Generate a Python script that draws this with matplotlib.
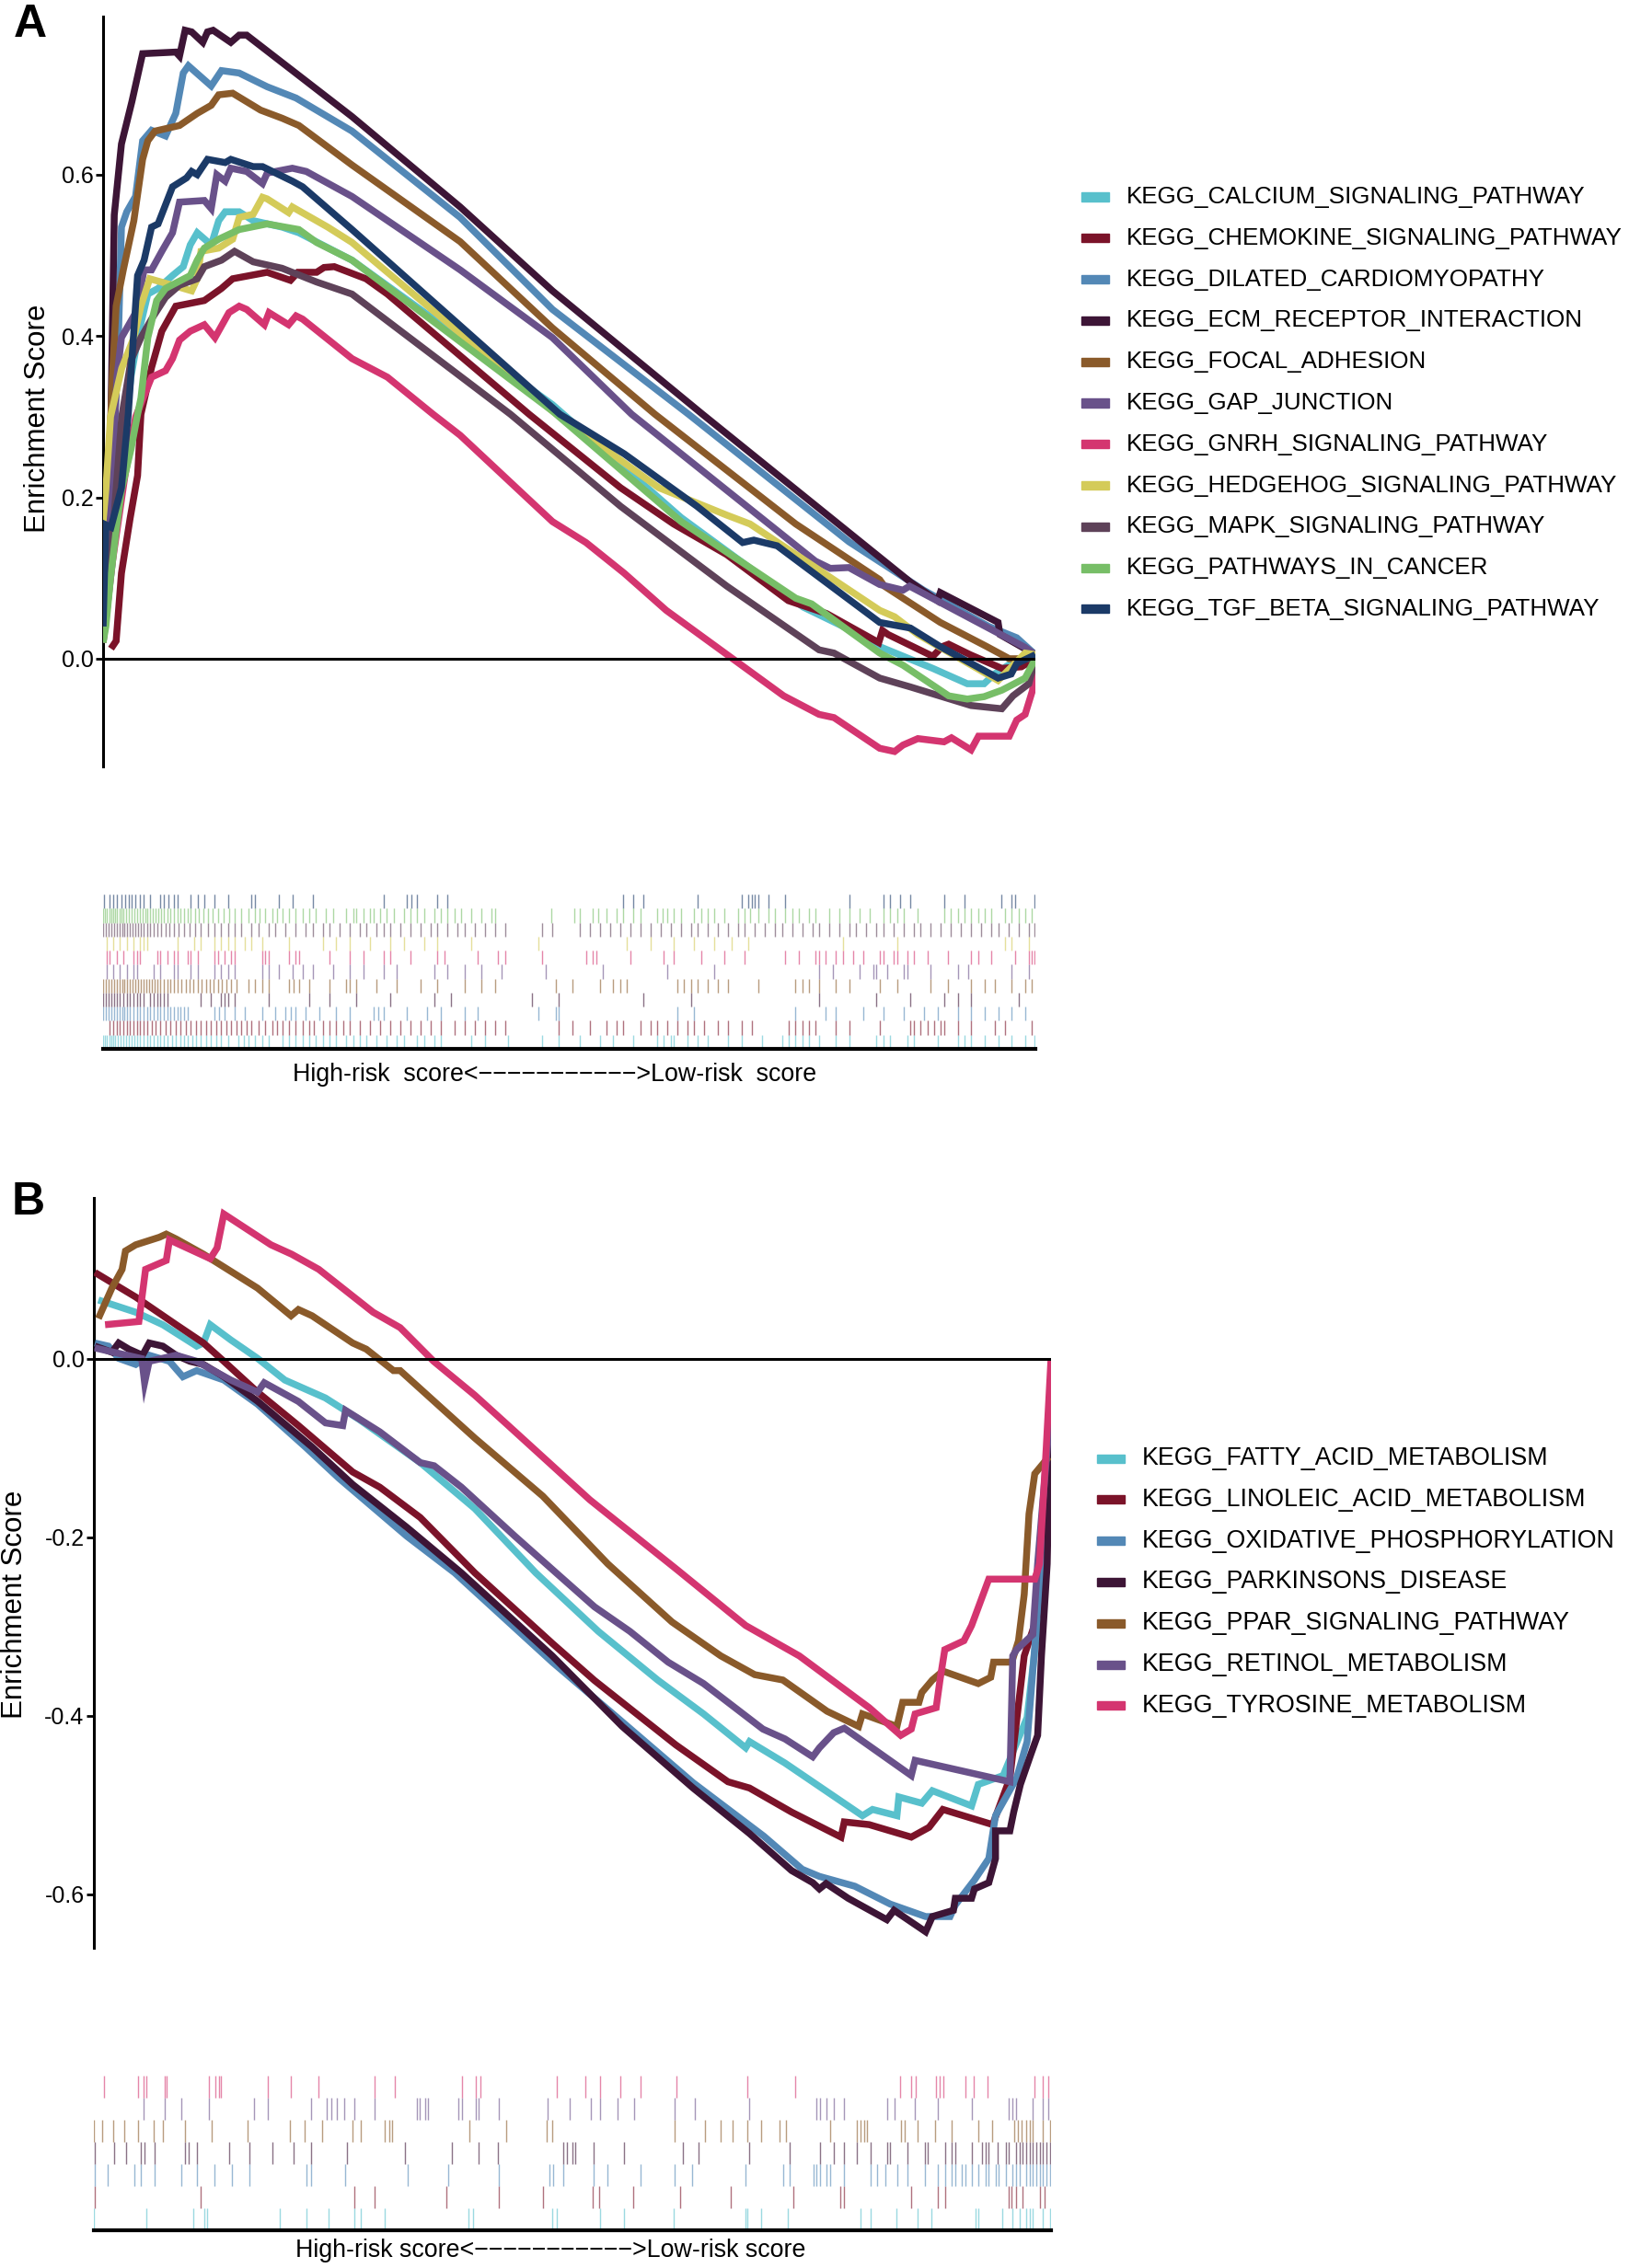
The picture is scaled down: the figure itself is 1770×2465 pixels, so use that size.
import matplotlib.pyplot as plt
from matplotlib.patches import Rectangle

plt.rcParams['font.family'] = ['Liberation Sans', 'DejaVu Sans']

# ---------------- panel A: sets enriched in the high-risk group ----------------
a_names = ['KEGG_CALCIUM_SIGNALING_PATHWAY', 'KEGG_CHEMOKINE_SIGNALING_PATHWAY',
           'KEGG_DILATED_CARDIOMYOPATHY', 'KEGG_ECM_RECEPTOR_INTERACTION',
           'KEGG_FOCAL_ADHESION', 'KEGG_GAP_JUNCTION', 'KEGG_GNRH_SIGNALING_PATHWAY',
           'KEGG_HEDGEHOG_SIGNALING_PATHWAY', 'KEGG_MAPK_SIGNALING_PATHWAY',
           'KEGG_PATHWAYS_IN_CANCER', 'KEGG_TGF_BETA_SIGNALING_PATHWAY']
a_colors = ['#58C0CC', '#7B1329', '#5388B6', '#3D1536', '#8A5A2A', '#69518A',
            '#D43570', '#D4CB59', '#5E4259', '#77BE67', '#1B3A67']

# running enrichment score, (fraction of ranked list, ES)
calcium = [(0.0, 0.02), (0.01, 0.12), (0.02, 0.25), (0.03, 0.35), (0.0386, 0.406), (0.048, 0.452),
           (0.059, 0.459), (0.0745, 0.475), (0.086, 0.486), (0.0935, 0.513), (0.101, 0.528),
           (0.116, 0.513), (0.124, 0.543), (0.131, 0.554), (0.146, 0.554), (0.161, 0.543),
           (0.192, 0.535), (0.210, 0.528), (0.267, 0.494), (0.482, 0.315), (0.62, 0.175),
           (0.751, 0.064), (0.792, 0.041), (0.833, 0.015), (0.890, -0.012), (0.927, -0.031),
           (0.945, -0.031), (0.956, -0.019), (0.975, -0.005), (1.0, 0.0)]
chemokine = [(0.0085, 0.0125), (0.014, 0.022), (0.0197, 0.106), (0.029, 0.174), (0.037, 0.227),
             (0.0406, 0.303), (0.052, 0.361), (0.063, 0.406), (0.078, 0.437), (0.1086, 0.444),
             (0.127, 0.459), (0.139, 0.471), (0.176, 0.479), (0.201, 0.469), (0.209, 0.479),
             (0.229, 0.479), (0.237, 0.485), (0.248, 0.486), (0.282, 0.471), (0.305, 0.452),
             (0.457, 0.303), (0.555, 0.212), (0.612, 0.167), (0.669, 0.129), (0.735, 0.072),
             (0.776, 0.056), (0.832, 0.020), (0.836, 0.035), (0.842, 0.030), (0.890, 0.003),
             (0.900, 0.015), (0.907, 0.018), (0.93, 0.005), (0.964, -0.012), (0.985, -0.01), (1.0, 0.0)]
dilated = [(0.0, 0.03), (0.008, 0.15), (0.012, 0.28), (0.016, 0.380), (0.0197, 0.535), (0.0254, 0.554),
           (0.0348, 0.573), (0.0424, 0.642), (0.052, 0.655), (0.067, 0.648), (0.078, 0.676),
           (0.086, 0.726), (0.0915, 0.735), (0.116, 0.710), (0.127, 0.729), (0.146, 0.726),
           (0.176, 0.709), (0.207, 0.695), (0.267, 0.654), (0.383, 0.547), (0.482, 0.433),
           (0.628, 0.303), (0.80, 0.145), (0.88, 0.085), (0.95, 0.04), (0.98, 0.026), (1.0, 0.005)]
ecm = [(0.0, 0.03), (0.005, 0.18), (0.0085, 0.303), (0.012, 0.55), (0.0197, 0.638), (0.031, 0.691),
       (0.0424, 0.750), (0.078, 0.752), (0.082, 0.747), (0.088, 0.779), (0.095, 0.777), (0.107, 0.764),
       (0.112, 0.777), (0.118, 0.779), (0.137, 0.764), (0.146, 0.773), (0.154, 0.773), (0.267, 0.672),
       (0.383, 0.560), (0.482, 0.456), (0.643, 0.303), (0.866, 0.095), (0.895, 0.072), (0.898, 0.082),
       (0.960, 0.045), (0.962, 0.03), (1.0, 0.005)]
focal = [(0.0, 0.05), (0.005, 0.2), (0.01, 0.35), (0.014, 0.437), (0.0217, 0.482), (0.033, 0.543),
         (0.0424, 0.619), (0.048, 0.642), (0.0557, 0.654), (0.082, 0.661), (0.101, 0.676),
         (0.116, 0.686), (0.124, 0.699), (0.139, 0.701), (0.169, 0.680), (0.192, 0.670),
         (0.210, 0.661), (0.267, 0.612), (0.383, 0.517), (0.482, 0.410), (0.592, 0.303),
         (0.743, 0.167), (0.833, 0.098), (0.838, 0.09), (0.898, 0.045), (0.948, 0.015),
         (0.972, 0.0), (1.0, 0.0)]
gap = [(0.0, 0.03), (0.008, 0.2), (0.015, 0.35), (0.0197, 0.398), (0.035, 0.429), (0.044, 0.482),
       (0.052, 0.482), (0.063, 0.505), (0.0745, 0.528), (0.082, 0.566), (0.1086, 0.568), (0.116, 0.558),
       (0.122, 0.600), (0.131, 0.592), (0.137, 0.608), (0.154, 0.604), (0.171, 0.589), (0.176, 0.602),
       (0.203, 0.608), (0.218, 0.604), (0.267, 0.573), (0.383, 0.482), (0.482, 0.398), (0.567, 0.303),
       (0.764, 0.121), (0.78, 0.112), (0.80, 0.113), (0.833, 0.092), (0.858, 0.085), (0.865, 0.09),
       (0.989, 0.014), (1.0, 0.005)]
gnrh = [(0.0, 0.02), (0.01, 0.12), (0.0235, 0.227), (0.035, 0.30), (0.052, 0.349), (0.067, 0.357),
        (0.0745, 0.372), (0.082, 0.395), (0.0935, 0.406), (0.1086, 0.414), (0.120, 0.398),
        (0.135, 0.429), (0.146, 0.437), (0.154, 0.433), (0.173, 0.414), (0.178, 0.429),
        (0.199, 0.414), (0.207, 0.425), (0.214, 0.421), (0.267, 0.372), (0.305, 0.349),
        (0.354, 0.303), (0.383, 0.277), (0.482, 0.170), (0.518, 0.144), (0.559, 0.106),
        (0.604, 0.060), (0.730, -0.046), (0.768, -0.069), (0.784, -0.073), (0.833, -0.111),
        (0.849, -0.115), (0.858, -0.107), (0.874, -0.099), (0.902, -0.103), (0.910, -0.098),
        (0.931, -0.113), (0.939, -0.096), (0.972, -0.096), (0.980, -0.076), (0.989, -0.069),
        (0.997, -0.039), (1.0, 0.0)]
hedgehog = [(0.0, 0.17), (0.003, 0.21), (0.008, 0.30), (0.02, 0.36), (0.033, 0.398), (0.0406, 0.437),
            (0.050, 0.471), (0.0745, 0.463), (0.095, 0.456), (0.101, 0.471), (0.105, 0.505),
            (0.124, 0.509), (0.139, 0.520), (0.146, 0.547), (0.161, 0.551), (0.171, 0.572),
            (0.176, 0.570), (0.199, 0.553), (0.203, 0.560), (0.241, 0.535), (0.267, 0.516),
            (0.482, 0.307), (0.596, 0.212), (0.637, 0.193), (0.669, 0.178), (0.694, 0.167),
            (0.833, 0.06), (0.849, 0.052), (0.874, 0.03), (0.960, -0.027), (0.989, 0.007), (1.0, 0.005)]
mapk = [(0.0, 0.03), (0.01, 0.15), (0.02, 0.30), (0.03, 0.37), (0.0406, 0.398), (0.052, 0.421),
        (0.067, 0.448), (0.082, 0.463), (0.101, 0.471), (0.1086, 0.486), (0.127, 0.494),
        (0.141, 0.505), (0.161, 0.492), (0.192, 0.484), (0.229, 0.467), (0.267, 0.452),
        (0.437, 0.303), (0.555, 0.189), (0.669, 0.090), (0.768, 0.011), (0.784, 0.007),
        (0.833, -0.024), (0.866, -0.035), (0.931, -0.058), (0.964, -0.062), (0.976, -0.046),
        (0.993, -0.031), (1.0, 0.0)]
cancer = [(0.0, 0.02), (0.003, 0.04), (0.008, 0.10), (0.014, 0.159), (0.0197, 0.209), (0.03, 0.26),
          (0.037, 0.303), (0.0406, 0.323), (0.048, 0.398), (0.0575, 0.444), (0.067, 0.459),
          (0.0935, 0.475), (0.101, 0.494), (0.1086, 0.509), (0.124, 0.520), (0.146, 0.532),
          (0.176, 0.539), (0.210, 0.532), (0.229, 0.516), (0.267, 0.494), (0.482, 0.307),
          (0.62, 0.170), (0.743, 0.075), (0.76, 0.068), (0.833, 0.007), (0.858, -0.008),
          (0.907, -0.046), (0.927, -0.050), (0.945, -0.047), (0.964, -0.039), (0.989, -0.024), (1.0, 0.0)]
tgf = [(0.0, 0.04), (0.003, 0.166), (0.0085, 0.163), (0.0197, 0.212), (0.027, 0.303), (0.037, 0.475),
       (0.044, 0.494), (0.052, 0.535), (0.059, 0.539), (0.0745, 0.585), (0.0895, 0.596), (0.095, 0.604),
       (0.101, 0.600), (0.112, 0.619), (0.131, 0.615), (0.137, 0.619), (0.161, 0.610), (0.171, 0.610),
       (0.203, 0.592), (0.214, 0.585), (0.267, 0.532), (0.49, 0.303), (0.559, 0.254), (0.637, 0.189),
       (0.686, 0.144), (0.698, 0.147), (0.723, 0.140), (0.833, 0.045), (0.866, 0.038), (0.898, 0.015),
       (0.960, -0.024), (0.974, -0.019), (0.980, -0.006), (1.0, 0.005)]
a_curves = [calcium, chemokine, dilated, ecm, focal, gap, gnrh, hedgehog, mapk, cancer, tgf]

# hit positions (rank in a list of 1380 genes)
N_A = 1380
calcium_hits = [0, 3, 6, 9, 12, 15, 18, 22, 26, 30, 34, 38, 42, 46, 50, 55, 60, 65, 70, 75, 80, 85, 90, 96,
                102, 108, 114, 120, 126, 132, 138, 145, 152, 160, 168, 175, 185, 200, 208, 215, 225, 235,
                245, 265, 275, 285, 295, 305, 315, 325, 335, 345, 360, 370, 380, 390, 405, 420, 435, 445,
                465, 475, 490, 500, 545, 565, 600, 650, 675, 705, 735, 755, 785, 820, 830, 840, 845, 865,
                880, 895, 925, 945, 975, 1005, 1015, 1025, 1035, 1045, 1060, 1085, 1105, 1145, 1155, 1165,
                1190, 1200, 1235, 1265, 1275, 1285, 1305, 1325, 1345, 1365, 1379]
chemokine_hits = [10, 15, 20, 25, 30, 35, 40, 45, 50, 55, 60, 65, 72, 78, 85, 92, 100, 108, 115, 122, 130,
                  138, 145, 152, 160, 168, 175, 182, 190, 198, 205, 212, 220, 230, 240, 250, 258, 265, 275,
                  285, 295, 305, 312, 325, 335, 345, 355, 365, 380, 395, 410, 425, 440, 455, 470, 485, 500,
                  520, 535, 550, 565, 580, 595, 675, 695, 720, 745, 760, 770, 795, 810, 820, 835, 850, 865,
                  875, 890, 910, 925, 945, 960, 1015, 1025, 1035, 1045, 1055, 1085, 1105, 1150, 1195, 1200,
                  1210, 1220, 1230, 1240, 1245, 1265, 1285, 1320, 1335, 1375]
dilated_hits = [0, 4, 8, 12, 16, 20, 24, 28, 32, 36, 40, 45, 50, 55, 60, 65, 70, 75, 80, 85, 90, 95, 100, 105,
                110, 115, 120, 125, 165, 172, 180, 195, 210, 235, 255, 270, 278, 285, 300, 320, 345, 365,
                400, 408, 415, 450, 480, 500, 535, 555, 645, 670, 675, 850, 875, 1025, 1070, 1085, 1125,
                1155, 1185, 1215, 1235, 1265, 1285, 1305, 1325, 1345, 1365]
ecm_hits = [0, 4, 8, 12, 16, 20, 25, 30, 35, 40, 45, 50, 55, 60, 70, 75, 80, 85, 90, 95, 145, 160, 175, 180,
            185, 195, 245, 305, 335, 375, 425, 490, 515, 635, 675, 800, 870, 1060, 1145, 1195, 1245, 1265,
            1285, 1355]
focal_hits = [0, 4, 8, 12, 16, 20, 24, 28, 32, 36, 40, 44, 48, 52, 56, 60, 64, 68, 72, 76, 80, 85, 90, 95,
              100, 105, 110, 116, 122, 128, 134, 140, 146, 152, 158, 164, 170, 176, 183, 190, 197, 215, 225,
              235, 245, 275, 282, 290, 305, 335, 360, 365, 375, 405, 435, 470, 495, 535, 560, 580, 670, 695,
              735, 755, 765, 775, 850, 860, 870, 880, 895, 910, 925, 970, 1025, 1035, 1045, 1060, 1085, 1105,
              1150, 1175, 1225, 1250, 1285, 1305, 1320, 1345, 1365, 1375]
gap_hits = [5, 15, 25, 35, 45, 50, 75, 85, 105, 110, 130, 140, 165, 175, 185, 195, 235, 245, 260, 280, 295,
            310, 340, 365, 385, 415, 435, 490, 510, 535, 560, 590, 655, 740, 835, 905, 1060, 1080, 1120,
            1140, 1145, 1160, 1185, 1190, 1225, 1265, 1280, 1345, 1370]
gnrh_hits = [5, 10, 20, 30, 45, 50, 55, 80, 85, 95, 105, 110, 125, 130, 140, 165, 170, 180, 190, 195, 235,
             240, 245, 275, 285, 290, 335, 365, 385, 415, 425, 455, 495, 505, 555, 585, 595, 650, 715, 725,
             730, 780, 830, 845, 885, 920, 950, 1010, 1030, 1055, 1060, 1070, 1085, 1095, 1110, 1125, 1150,
             1155, 1170, 1175, 1190, 1200, 1220, 1250, 1285, 1295, 1315, 1350, 1370, 1375, 1379]
hedgehog_hits = [5, 15, 25, 35, 45, 55, 60, 65, 110, 135, 145, 165, 175, 185, 195, 210, 220, 235, 275, 325,
                 345, 365, 395, 425, 445, 475, 495, 545, 645, 775, 810, 845, 875, 905, 930, 955, 1095, 1175,
                 1335, 1345, 1370]
mapk_hits = [0, 4, 8, 12, 16, 20, 24, 28, 32, 36, 40, 44, 48, 52, 56, 60, 65, 70, 75, 80, 86, 92, 98, 105, 112,
             120, 128, 136, 145, 155, 165, 175, 185, 195, 205, 220, 230, 245, 255, 270, 285, 300, 310, 325,
             335, 350, 365, 380, 390, 405, 415, 425, 440, 455, 470, 485, 495, 510, 525, 535, 550, 565, 580,
             595, 650, 665, 705, 720, 735, 750, 765, 780, 795, 810, 825, 840, 855, 870, 880, 895, 910, 925,
             940, 950, 965, 980, 995, 1005, 1020, 1035, 1050, 1060, 1075, 1090, 1105, 1115, 1130, 1145,
             1155, 1170, 1185, 1200, 1210, 1225, 1240, 1255, 1270, 1285, 1300, 1315, 1325, 1340, 1355,
             1370, 1379]
cancer_hits = [0, 3, 6, 9, 12, 15, 18, 21, 24, 27, 30, 34, 38, 42, 46, 50, 54, 58, 62, 66, 70, 74, 78, 82, 86,
               90, 95, 100, 105, 110, 115, 120, 125, 130, 136, 142, 148, 155, 162, 170, 178, 186, 195, 205,
               215, 225, 232, 240, 250, 258, 265, 275, 285, 295, 305, 315, 330, 340, 360, 370, 375, 385, 395,
               400, 410, 420, 430, 445, 455, 465, 475, 490, 500, 510, 520, 530, 545, 560, 575, 580, 663, 697,
               705, 725, 733, 745, 760, 770, 785, 795, 820, 828, 835, 845, 855, 875, 885, 895, 905, 920, 940,
               950, 958, 970, 985, 995, 1010, 1020, 1030, 1045, 1055, 1075, 1090, 1105, 1120, 1135, 1155,
               1165, 1175, 1185, 1205, 1245, 1255, 1265, 1275, 1285, 1295, 1305, 1315, 1335, 1345, 1355,
               1365, 1375]
tgf_hits = [2, 10, 15, 20, 27, 33, 38, 42, 48, 55, 60, 70, 85, 90, 97, 105, 110, 130, 140, 150, 165, 185, 220,
            225, 260, 280, 310, 415, 450, 457, 465, 495, 510, 770, 785, 800, 880, 945, 955, 960, 965, 970,
            985, 1010, 1105, 1155, 1165, 1180, 1195, 1245, 1275, 1330, 1345, 1350, 1379]
a_hits = [calcium_hits, chemokine_hits, dilated_hits, ecm_hits, focal_hits, gap_hits, gnrh_hits,
          hedgehog_hits, mapk_hits, cancer_hits, tgf_hits]

# ---------------- panel B: sets enriched in the low-risk group ----------------
b_names = ['KEGG_FATTY_ACID_METABOLISM', 'KEGG_LINOLEIC_ACID_METABOLISM',
           'KEGG_OXIDATIVE_PHOSPHORYLATION', 'KEGG_PARKINSONS_DISEASE',
           'KEGG_PPAR_SIGNALING_PATHWAY', 'KEGG_RETINOL_METABOLISM', 'KEGG_TYROSINE_METABOLISM']
b_colors = ['#58C0CC', '#7B1329', '#5388B6', '#3D1536', '#8A5A2A', '#69518A', '#D43570']

fatty = [(0.0047, 0.0657), (0.0437, 0.052), (0.072, 0.038), (0.1074, 0.014), (0.1145, 0.0175),
         (0.1216, 0.038), (0.143, 0.021), (0.171, 0.0003), (0.1995, -0.024), (0.2418, -0.044),
         (0.277, -0.068), (0.341, -0.1165), (0.398, -0.168), (0.4617, -0.240), (0.527, -0.3055),
         (0.589, -0.360), (0.637, -0.398), (0.681, -0.436), (0.685, -0.429), (0.722, -0.453),
         (0.803, -0.512), (0.8135, -0.505), (0.839, -0.512), (0.841, -0.491), (0.865, -0.498),
         (0.876, -0.484), (0.917, -0.501), (0.924, -0.477), (0.950, -0.467), (0.975, -0.402),
         (0.986, -0.299), (0.992, -0.230), (1.0, -0.10)]
linoleic = [(0.001, 0.0966), (0.0437, 0.069), (0.086, 0.038), (0.1145, 0.0175), (0.1358, -0.003),
            (0.171, -0.0375), (0.2137, -0.075), (0.2704, -0.127), (0.2987, -0.144), (0.341, -0.178),
            (0.398, -0.240), (0.479, -0.319), (0.523, -0.3605), (0.608, -0.4327), (0.6625, -0.474),
            (0.685, -0.481), (0.729, -0.508), (0.7806, -0.536), (0.784, -0.519), (0.810, -0.522),
            (0.854, -0.536), (0.8726, -0.525), (0.887, -0.505), (0.939, -0.522), (0.957, -0.470),
            (0.972, -0.333), (0.988, -0.281), (0.994, -0.230), (1.0, -0.05)]
oxidative = [(0.001, 0.0175), (0.0152, 0.014), (0.0259, 0.0003), (0.0437, -0.0065), (0.0578, 0.0038),
             (0.079, -0.003), (0.093, -0.0203), (0.1074, -0.0134), (0.1358, -0.024), (0.171, -0.051),
             (0.221, -0.099), (0.256, -0.134), (0.327, -0.199), (0.377, -0.240), (0.479, -0.340),
             (0.55, -0.405), (0.626, -0.475), (0.70, -0.535), (0.74, -0.572), (0.758, -0.580),
             (0.795, -0.591), (0.832, -0.611), (0.869, -0.625), (0.8945, -0.625), (0.900, -0.612),
             (0.920, -0.584), (0.935, -0.560), (0.942, -0.512), (0.964, -0.470), (0.975, -0.429),
             (0.990, -0.230), (1.0, -0.08)]
parkinsons = [(0.001, 0.014), (0.0188, 0.0072), (0.0259, 0.0175), (0.0366, 0.0106), (0.0508, 0.0038),
              (0.0578, 0.0175), (0.072, 0.014), (0.086, 0.0038), (0.1004, -0.003), (0.1145, -0.0065),
              (0.1358, -0.0203), (0.171, -0.0477), (0.228, -0.099), (0.2704, -0.141), (0.327, -0.189),
              (0.384, -0.240), (0.479, -0.333), (0.552, -0.412), (0.626, -0.481), (0.685, -0.532),
              (0.729, -0.5735), (0.751, -0.587), (0.758, -0.594), (0.765, -0.588), (0.788, -0.6045),
              (0.8285, -0.6285), (0.836, -0.618), (0.869, -0.642), (0.876, -0.625), (0.898, -0.618),
              (0.900, -0.6045), (0.917, -0.6045), (0.920, -0.594), (0.935, -0.587), (0.942, -0.560),
              (0.942, -0.529), (0.957, -0.529), (0.961, -0.508), (0.968, -0.477), (0.979, -0.443),
              (0.986, -0.422), (0.990, -0.333), (0.996, -0.230), (1.0, -0.02)]
ppar = [(0.0047, 0.045), (0.0188, 0.079), (0.0295, 0.100), (0.033, 0.1206), (0.0437, 0.1275),
        (0.0685, 0.136), (0.0756, 0.1395), (0.086, 0.134), (0.1145, 0.117), (0.171, 0.079),
        (0.206, 0.048), (0.2137, 0.055), (0.228, 0.048), (0.2704, 0.0175), (0.2846, 0.0106),
        (0.313, -0.0134), (0.320, -0.0134), (0.398, -0.089), (0.469, -0.154), (0.537, -0.230),
        (0.604, -0.295), (0.655, -0.333), (0.6904, -0.354), (0.7198, -0.360), (0.766, -0.395),
        (0.799, -0.412), (0.803, -0.398), (0.839, -0.412), (0.845, -0.385), (0.862, -0.385),
        (0.865, -0.374), (0.876, -0.360), (0.887, -0.350), (0.924, -0.364), (0.937, -0.357),
        (0.940, -0.340), (0.959, -0.340), (0.966, -0.316), (0.972, -0.264), (0.977, -0.174),
        (0.983, -0.129), (0.993, -0.116), (0.998, -0.11)]
retinol = [(0.001, 0.012), (0.05, 0.0), (0.053, -0.027), (0.0578, -0.003), (0.086, 0.0038),
           (0.1074, -0.003), (0.143, -0.024), (0.171, -0.0375), (0.178, -0.027), (0.2137, -0.048),
           (0.242, -0.072), (0.260, -0.075), (0.263, -0.058), (0.2987, -0.082), (0.341, -0.1165),
           (0.3555, -0.12), (0.384, -0.144), (0.440, -0.199), (0.483, -0.240), (0.523, -0.278),
           (0.560, -0.3055), (0.600, -0.340), (0.637, -0.364), (0.699, -0.415), (0.722, -0.426),
           (0.751, -0.446), (0.758, -0.436), (0.773, -0.419), (0.784, -0.414), (0.854, -0.467),
           (0.858, -0.450), (0.920, -0.465), (0.957, -0.474), (0.960, -0.333), (0.964, -0.326),
           (0.981, -0.309), (0.986, -0.230), (1.0, -0.05)]
tyrosine = [(0.0117, 0.038), (0.047, 0.0416), (0.054, 0.100), (0.0756, 0.110), (0.079, 0.133),
            (0.1216, 0.112), (0.1287, 0.124), (0.1358, 0.162), (0.185, 0.1275), (0.2066, 0.117),
            (0.235, 0.100), (0.2917, 0.052), (0.320, 0.0347), (0.355, -0.003), (0.398, -0.041),
            (0.433, -0.075), (0.518, -0.158), (0.61, -0.237), (0.681, -0.299), (0.737, -0.333),
            (0.810, -0.391), (0.843, -0.422), (0.854, -0.415), (0.858, -0.398), (0.880, -0.391),
            (0.884, -0.360), (0.889, -0.326), (0.909, -0.316), (0.917, -0.299), (0.935, -0.247),
            (0.983, -0.247), (0.988, -0.230), (0.995, -0.10), (1.0, 0.0)]
b_curves = [fatty, linoleic, oxidative, parkinsons, ppar, retinol, tyrosine]

N_B = 1417
fatty_hits = [0, 78, 147, 163, 168, 275, 315, 348, 385, 395, 430, 555, 562, 678, 685, 750, 785, 858, 965,
              968, 988, 1028, 1135, 1150, 1188, 1220, 1240, 1305, 1310, 1345, 1360, 1370, 1380, 1385, 1390,
              1405, 1415]
linoleic_hits = [2, 158, 385, 415, 522, 600, 665, 738, 748, 798, 868, 943, 1035, 1105, 1110, 1210, 1250,
                 1260, 1355, 1358, 1365, 1375, 1400, 1408]
oxidative_hits = [2, 20, 60, 70, 90, 130, 153, 178, 205, 230, 315, 322, 372, 465, 525, 600, 675, 680, 695,
                  740, 760, 810, 860, 885, 965, 1020, 1030, 1065, 1070, 1075, 1085, 1090, 1110, 1150, 1160,
                  1172, 1190, 1205, 1230, 1250, 1260, 1270, 1275, 1285, 1290, 1300, 1310, 1320, 1325, 1335,
                  1340, 1350, 1360, 1365, 1370, 1380, 1385, 1390, 1395, 1400, 1405, 1410, 1415]
parkinsons_hits = [2, 30, 48, 70, 75, 90, 135, 140, 153, 200, 230, 265, 295, 322, 375, 460, 530, 570, 598,
                   695, 700, 708, 712, 740, 785, 872, 895, 970, 1030, 1075, 1095, 1110, 1130, 1150, 1175,
                   1178, 1205, 1230, 1235, 1260, 1270, 1275, 1300, 1315, 1320, 1325, 1338, 1350, 1355, 1365,
                   1370, 1375, 1380, 1385, 1390, 1395, 1400, 1405, 1410, 1415]
ppar_hits = [0, 12, 28, 45, 65, 88, 102, 135, 175, 227, 290, 312, 338, 383, 395, 430, 438, 442, 556, 610,
             670, 678, 860, 905, 928, 945, 968, 988, 1015, 1025, 1090, 1130, 1135, 1140, 1145, 1195, 1200,
             1220, 1245, 1270, 1310, 1330, 1363, 1368, 1373, 1380, 1385, 1390, 1405, 1415]
retinol_hits = [73, 105, 130, 170, 237, 257, 322, 345, 352, 360, 370, 385, 415, 478, 482, 490, 494, 540,
                545, 565, 570, 600, 672, 705, 736, 750, 775, 800, 860, 890, 970, 1070, 1075, 1085, 1095,
                1110, 1175, 1185, 1215, 1250, 1300, 1355, 1360, 1365, 1390, 1405, 1413]
tyrosine_hits = [15, 65, 73, 78, 105, 108, 170, 180, 185, 188, 258, 292, 332, 416, 445, 545, 565, 572, 686,
                 728, 750, 780, 810, 862, 968, 1038, 1193, 1210, 1217, 1247, 1252, 1258, 1290, 1302, 1323,
                 1393, 1405, 1413]
b_hits = [fatty_hits, linoleic_hits, oxidative_hits, parkinsons_hits, ppar_hits, retinol_hits, tyrosine_hits]

DASHES = '\u2212' * 11
a_xlabel = 'High-risk  score<' + DASHES + '>Low-risk  score'
b_xlabel = 'High-risk score<' + DASHES + '>Low-risk score'

# ---------------- layout (pixel boxes on a 1770 x 2465 canvas) ----------------
W, H = 1770, 2465
fig = plt.figure(figsize=(W / 100, H / 100), dpi=100)


def box(x0, y0, x1, y1):
    return [x0 / W, 1 - y1 / H, (x1 - x0) / W, (y1 - y0) / H]


def es_panel(rect, curves, colors, ylim, yticks, label_xy):
    ax = fig.add_axes(rect)
    for pts, c in zip(curves, colors):
        ax.plot([p[0] for p in pts], [p[1] for p in pts], color=c, lw=5.4,
                solid_joinstyle='miter', solid_capstyle='butt', zorder=3)
    ax.axhline(0, color='black', lw=2.2, zorder=4)
    ax.set_xlim(0, 1)
    ax.set_ylim(*ylim)
    ax.set_yticks(yticks)
    ax.set_yticklabels(['%.1f' % t for t in yticks])
    ax.set_xticks([])
    for s in ['top', 'right', 'bottom']:
        ax.spines[s].set_visible(False)
    ax.spines['left'].set_linewidth(2.2)
    ax.tick_params(axis='y', length=6, width=2, labelsize=18, pad=1.5)
    ax.set_ylabel('Enrichment Score', fontsize=22.5)
    ax.yaxis.set_label_coords(*label_xy)
    return ax


def rug_panel(rect, hits, n, colors, xlabel, label_x, label_y):
    ax = fig.add_axes(rect)
    for i, (h, c) in enumerate(zip(hits, colors)):
        ax.vlines([r / n for r in h], i, i + 1, color=c, alpha=0.6, lw=1.0)
    ax.set_xlim(0, 1)
    ax.set_ylim(0, len(hits))
    ax.set_xticks([])
    ax.set_yticks([])
    for s in ['top', 'right', 'left']:
        ax.spines[s].set_visible(False)
    ax.spines['bottom'].set_linewidth(3.0)
    fig.text(label_x / W, 1 - label_y / H, xlabel, fontsize=19.3, ha='center', va='center')
    return ax


def legend(names, colors, x_patch, x_text, y0, dy, size):
    for i, (nm, c) in enumerate(zip(names, colors)):
        y = y0 + i * dy
        fig.patches.append(Rectangle((x_patch / W, 1 - (y + 4.5) / H), 30 / W, 9 / H,
                                     transform=fig.transFigure, color=c))
        fig.text(x_text / W, 1 - y / H, nm, fontsize=size, ha='left', va='center')


# panel A
es_panel(box(112, 18, 1125, 833), a_curves, a_colors, (-0.1335, 0.796),
         [0.0, 0.2, 0.4, 0.6], (-0.055, 0.464))
rug_panel(box(112, 972, 1125, 1140), a_hits, N_A, a_colors, a_xlabel, 603, 1168)
legend(a_names, a_colors, 1175, 1224, 214, 44.8, 18.7)
fig.text(15 / W, 1 - 4 / H, 'A', fontsize=36, fontweight='bold', ha='left', va='top')

# panel B
es_panel(box(102, 1302, 1142, 2117), b_curves, b_colors, (-0.66, 0.18),
         [-0.6, -0.4, -0.2, 0.0], (-0.068, 0.458))
rug_panel(box(102, 2256, 1142, 2424), b_hits, N_B, b_colors, b_xlabel, 598, 2446)
legend(b_names, b_colors, 1192, 1241, 1585, 44.8, 19.3)
fig.text(13 / W, 1 - 1284 / H, 'B', fontsize=36, fontweight='bold', ha='left', va='top')

fig.savefig('out.png', dpi=100)
